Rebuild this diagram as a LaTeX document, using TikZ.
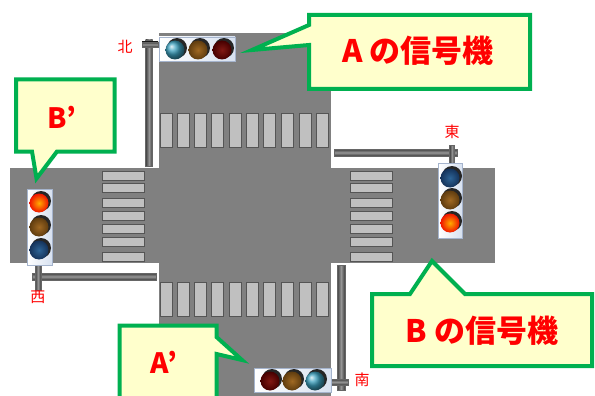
\documentclass[tikz,border=0pt]{standalone}
\usepackage{fontspec}
\newfontfamily\jp{Noto Sans CJK JP}
\usepackage{tikz}
\definecolor{roadgray}{RGB}{128,128,128}
\definecolor{stripegray}{RGB}{192,192,192}
\definecolor{stripeedge}{RGB}{85,85,85}
\definecolor{notefill}{RGB}{255,255,204}
\definecolor{noteline}{RGB}{0,176,80}
\definecolor{poledark}{RGB}{60,60,60}
\definecolor{polelight}{RGB}{150,150,150}
\definecolor{houseedge}{RGB}{165,180,205}
\definecolor{housetint}{RGB}{215,225,240}
\definecolor{lampteal}{RGB}{60,160,190}
\tikzset{
    road/.style={fill=roadgray},
    zebra/.style={fill=stripegray, draw=stripeedge, line width=0.7pt},
    vpole/.style={draw=black!60, line width=0.4pt, left color=poledark, right color=poledark, middle color=polelight},
    hpole/.style={draw=black!60, line width=0.4pt, top color=poledark, bottom color=poledark, middle color=polelight},
    housing/.style={draw=houseedge, line width=0.8pt, left color=white, right color=housetint},
    visor/.style={fill=black!85},
    bluelit/.style={ball color=lampteal},
    bluedim/.style={inner color={rgb,255:red,45;green,100;blue,150}, outer color={rgb,255:red,20;green,50;blue,90}},
    amberdim/.style={inner color={rgb,255:red,160;green,105;blue,35}, outer color={rgb,255:red,95;green,60;blue,15}},
    reddim/.style={inner color={rgb,255:red,130;green,25;blue,20}, outer color={rgb,255:red,70;green,0;blue,0}},
    redlit/.style={inner color={rgb,255:red,255;green,170;blue,0}, outer color={rgb,255:red,240;green,20;blue,0}},
    note/.style={fill=notefill, draw=noteline, line width=4pt, line join=miter},
    notetext/.style={text=red, font=\jp\bfseries\fontsize{31}{31}\selectfont},
    primetext/.style={text=red, font=\jp\bfseries\fontsize{28}{28}\selectfont},
    dirtext/.style={text=red, font=\jp\fontsize{15}{15}\selectfont, inner sep=0pt}
}

\begin{document}
\begin{tikzpicture}[x=1pt, y=-1pt]
\useasboundingbox[fill=white] (0,0) rectangle (595,396);
% the two roads
\fill[road] (159,33) rectangle (331,396);
\fill[road] (10,168) rectangle (495,263);
% crossings
\foreach \x in {160,177,194,211,229,246,263,281,299,316}{
    \draw[zebra] (\x,113) rectangle ++(12,34);
    \draw[zebra] (\x,282) rectangle ++(12,34);
}
\foreach \y in {171,183,198,211,224,237,252}{
    \draw[zebra] (102,\y) rectangle ++(42,9);
    \draw[zebra] (350,\y) rectangle ++(42,9);
}
% poles
\draw[vpole] (145.5,40) rectangle (152.5,166);
\draw[hpole] (142,42) rectangle (158,47);
\draw[hpole] (334,149) rectangle (457,156);
\draw[vpole] (449.5,145) rectangle (454.5,164);
\draw[hpole] (32,273) rectangle (156,280);
\draw[vpole] (35,264) rectangle (41,290);
\draw[vpole] (337,265) rectangle (345,390);
\draw[hpole] (331,379) rectangle (348,385);
% signal housings
\draw[housing] (159,37) rectangle (235,61);
\draw[housing] (254,368) rectangle (331,392);
\draw[housing] (438,163) rectangle (462,238);
\draw[housing] (27,189) rectangle (52,265);
% lamps
\foreach \x/\y/\s in {175/50/bluelit, 198/50/amberdim, 222/50/reddim,
                      270/381/reddim, 292/381/amberdim, 315/381/bluelit,
                      450/178/bluedim, 450/200/amberdim, 450/223/redlit,
                      39/203/redlit, 39/227/amberdim, 39/250/bluedim}{
    \fill[visor] (\x+2,\y-2) circle (10);
    \shade[\s] (\x,\y) circle (9.5);
}
\node[dirtext] (north) at (125,47) {北};
\node[dirtext] (east) at (452,132) {東};
\node[dirtext] (west) at (38,297) {西};
\node[dirtext] (south) at (362,380) {南};
% callouts
\draw[note] (309,15) -- (530,15) -- (530,89) -- (309,89) -- (309,45) -- (252,50) -- (309,25) -- cycle;
\draw[note] (372,294) -- (410,294) -- (432,261) -- (465,294) -- (592,294) -- (592,366) -- (372,366) -- cycle;
\draw[note] (16,79.5) -- (114.5,79.5) -- (114.5,151.5) -- (57,151.5) -- (36.5,178.5) -- (32,151.5) -- (16,151.5) -- cycle;
\draw[note] (119.5,325.5) -- (216.5,325.5) -- (216.5,337) -- (242,360) -- (216.5,354) -- (216.5,410) -- (119.5,410) -- cycle;
\node[notetext] (noteA) at (418,51) {A の信号機};
\node[notetext] (noteB) at (482,331) {B の信号機};
\node[primetext] (noteBp) at (62,117) {B’};
\node[primetext] (noteAp) at (164,362) {A’};
\end{tikzpicture}
\end{document}
